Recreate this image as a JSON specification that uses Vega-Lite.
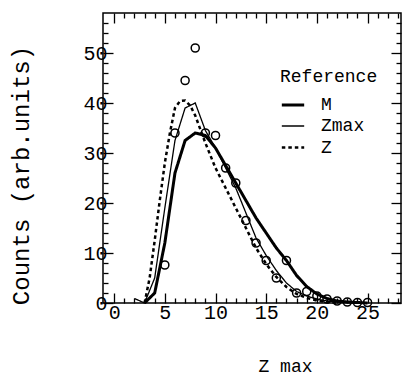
{
  "$schema": "https://vega.github.io/schema/vega-lite/v6.json",
  "width": 298,
  "height": 290,
  "autosize": "none",
  "padding": {"left": 103, "top": 13, "right": 2, "bottom": 74},
  "config": {
    "view": {"stroke": "black", "strokeWidth": 1.5},
    "font": "Liberation Mono",
    "axis": {
      "domain": false, "grid": false, "tickColor": "black", "tickWidth": 1.3,
      "labelColor": "black", "titleColor": "black",
      "labelFont": "Liberation Mono", "titleFont": "Liberation Mono", "titleFontWeight": "normal"
    }
  },
  "datasets": {
    "curves": [
      {"model": "M", "z": 3, "count": 0}, {"model": "M", "z": 4, "count": 2}, {"model": "M", "z": 5, "count": 12},
      {"model": "M", "z": 6, "count": 26}, {"model": "M", "z": 7, "count": 32.5}, {"model": "M", "z": 8, "count": 34},
      {"model": "M", "z": 9, "count": 33.5}, {"model": "M", "z": 10, "count": 31}, {"model": "M", "z": 11, "count": 27.5},
      {"model": "M", "z": 12, "count": 24}, {"model": "M", "z": 13, "count": 20.5}, {"model": "M", "z": 14, "count": 17},
      {"model": "M", "z": 15, "count": 14}, {"model": "M", "z": 16, "count": 11}, {"model": "M", "z": 17, "count": 8.5},
      {"model": "M", "z": 18, "count": 5.5}, {"model": "M", "z": 19, "count": 3.3}, {"model": "M", "z": 20, "count": 1.8},
      {"model": "M", "z": 21, "count": 0.9}, {"model": "M", "z": 22, "count": 0.4}, {"model": "M", "z": 23, "count": 0.2},
      {"model": "M", "z": 24, "count": 0.1}, {"model": "M", "z": 25, "count": 0},
      {"model": "Zmax", "z": 2, "count": 0.9}, {"model": "Zmax", "z": 3, "count": 0}, {"model": "Zmax", "z": 4, "count": 5},
      {"model": "Zmax", "z": 5, "count": 19}, {"model": "Zmax", "z": 6, "count": 32.5}, {"model": "Zmax", "z": 7, "count": 39},
      {"model": "Zmax", "z": 8, "count": 40}, {"model": "Zmax", "z": 9, "count": 34.5}, {"model": "Zmax", "z": 10, "count": 31},
      {"model": "Zmax", "z": 11, "count": 27}, {"model": "Zmax", "z": 12, "count": 23}, {"model": "Zmax", "z": 13, "count": 18},
      {"model": "Zmax", "z": 14, "count": 13}, {"model": "Zmax", "z": 15, "count": 9.5}, {"model": "Zmax", "z": 16, "count": 6.5},
      {"model": "Zmax", "z": 17, "count": 4}, {"model": "Zmax", "z": 18, "count": 2.3}, {"model": "Zmax", "z": 19, "count": 1.4},
      {"model": "Zmax", "z": 20, "count": 0.8}, {"model": "Zmax", "z": 21, "count": 0.4}, {"model": "Zmax", "z": 22, "count": 0.2},
      {"model": "Zmax", "z": 23, "count": 0.1}, {"model": "Zmax", "z": 24, "count": 0},
      {"model": "Z", "z": 3, "count": 0}, {"model": "Z", "z": 3.5, "count": 5}, {"model": "Z", "z": 4, "count": 12.5},
      {"model": "Z", "z": 4.5, "count": 20.5}, {"model": "Z", "z": 5, "count": 28}, {"model": "Z", "z": 5.5, "count": 34},
      {"model": "Z", "z": 6, "count": 39}, {"model": "Z", "z": 6.5, "count": 40.4}, {"model": "Z", "z": 7, "count": 40.5},
      {"model": "Z", "z": 7.5, "count": 39.5}, {"model": "Z", "z": 8, "count": 37.5}, {"model": "Z", "z": 9, "count": 32},
      {"model": "Z", "z": 10, "count": 27}, {"model": "Z", "z": 11, "count": 23}, {"model": "Z", "z": 12, "count": 19},
      {"model": "Z", "z": 13, "count": 15}, {"model": "Z", "z": 14, "count": 11}, {"model": "Z", "z": 15, "count": 7.8},
      {"model": "Z", "z": 16, "count": 5.2}, {"model": "Z", "z": 17, "count": 3.2}, {"model": "Z", "z": 18, "count": 1.8},
      {"model": "Z", "z": 19, "count": 1}, {"model": "Z", "z": 20, "count": 0.5}, {"model": "Z", "z": 21, "count": 0.2},
      {"model": "Z", "z": 22, "count": 0}
    ],
    "points": [
      {"z": 5, "count": 7.6}, {"z": 6, "count": 34}, {"z": 7, "count": 44.5}, {"z": 8, "count": 51},
      {"z": 9, "count": 34}, {"z": 10, "count": 33.5}, {"z": 11, "count": 27}, {"z": 12, "count": 24},
      {"z": 13, "count": 16.5}, {"z": 14, "count": 12}, {"z": 15, "count": 8.5}, {"z": 16, "count": 5},
      {"z": 17, "count": 8.5}, {"z": 18, "count": 2}, {"z": 19, "count": 2.3}, {"z": 20, "count": 1.4},
      {"z": 21, "count": 0.8}, {"z": 22, "count": 0.4}, {"z": 23, "count": 0.2}, {"z": 24, "count": 0.1},
      {"z": 25, "count": 0.1}
    ]
  },
  "layer": [
    {
      "data": {"name": "curves"},
      "mark": {"type": "line", "color": "black"},
      "encoding": {
        "x": {"field": "z", "type": "quantitative",
          "scale": {"domain": [-1.1, 28.3], "nice": false, "zero": false},
          "axis": {"orient": "bottom", "values": [0, 5, 10, 15, 20, 25], "tickSize": -10,
            "labelFontSize": 20, "labelPadding": 9, "labelBaseline": "top",
            "title": "Z max", "titleFontSize": 18, "titleX": 182, "titleY": 68, "titleAlign": "center", "titleBaseline": "alphabetic"}},
        "y": {"field": "count", "type": "quantitative",
          "scale": {"domain": [0, 58], "nice": false},
          "axis": {"orient": "left", "values": [0, 10, 20, 30, 40, 50], "tickSize": -10,
            "labelFontSize": 20, "labelPadding": 6,
            "title": "Counts (arb.units)", "titleFontSize": 24, "titleX": -75, "titleY": 162, "titleAngle": 270, "titleAlign": "center", "titleBaseline": "alphabetic"}},
        "strokeWidth": {"field": "model", "type": "nominal",
          "scale": {"type": "ordinal", "domain": ["M", "Zmax", "Z"], "range": [3, 1.3, 2.5]},
          "legend": {"orient": "none", "legendX": 177, "legendY": 55, "title": "Reference",
            "titleFontSize": 18, "titleFontWeight": "normal", "titleFont": "Liberation Mono", "titleColor": "black",
            "labelFontSize": 18, "labelFont": "Liberation Mono", "labelColor": "black",
            "symbolType": "stroke", "symbolSize": 500, "symbolStrokeColor": "black", "labelOffset": 15, "titlePadding": 6, "rowPadding": -3}},
        "strokeDash": {"field": "model", "type": "nominal",
          "scale": {"domain": ["M", "Zmax", "Z"], "range": [[1, 0], [1, 0], [3.5, 3]]},
          "legend": {"orient": "none", "legendX": 177, "legendY": 55, "title": "Reference",
            "titleFontSize": 18, "titleFontWeight": "normal", "titleFont": "Liberation Mono", "titleColor": "black",
            "labelFontSize": 18, "labelFont": "Liberation Mono", "labelColor": "black",
            "symbolType": "stroke", "symbolSize": 500, "symbolStrokeColor": "black", "labelOffset": 15, "titlePadding": 6, "rowPadding": -3}}
      }
    },
    {
      "data": {"name": "points"},
      "mark": {"type": "point", "shape": "circle", "filled": false, "color": "black", "opacity": 1, "size": 65, "strokeWidth": 1.5},
      "encoding": {
        "x": {"field": "z", "type": "quantitative", "scale": {"domain": [-1.1, 28.3], "nice": false, "zero": false},
          "axis": {"orient": "top", "values": [0, 5, 10, 15, 20, 25], "tickSize": -10, "labels": false, "title": null}},
        "y": {"field": "count", "type": "quantitative", "scale": {"domain": [0, 58], "nice": false},
          "axis": {"orient": "right", "values": [0, 10, 20, 30, 40, 50], "tickSize": -10, "labels": false, "title": null}}
      }
    },
    {
      "data": {"name": "points"},
      "mark": {"type": "point", "opacity": 0},
      "encoding": {
        "x": {"field": "z", "type": "quantitative", "scale": {"domain": [-1.1, 28.3], "nice": false, "zero": false},
          "axis": {"orient": "bottom", "values": [1, 2, 3, 4, 6, 7, 8, 9, 11, 12, 13, 14, 16, 17, 18, 19, 21, 22, 23, 24, 26, 27, 28], "tickSize": -5, "labels": false, "title": null}},
        "y": {"field": "count", "type": "quantitative", "scale": {"domain": [0, 58], "nice": false},
          "axis": {"orient": "left", "values": [2, 4, 6, 8, 12, 14, 16, 18, 22, 24, 26, 28, 32, 34, 36, 38, 42, 44, 46, 48, 52, 54, 56], "tickSize": -5, "labels": false, "title": null}}
      }
    },
    {
      "data": {"name": "points"},
      "mark": {"type": "point", "opacity": 0},
      "encoding": {
        "x": {"field": "z", "type": "quantitative", "scale": {"domain": [-1.1, 28.3], "nice": false, "zero": false},
          "axis": {"orient": "top", "values": [1, 2, 3, 4, 6, 7, 8, 9, 11, 12, 13, 14, 16, 17, 18, 19, 21, 22, 23, 24, 26, 27, 28], "tickSize": -5, "labels": false, "title": null}},
        "y": {"field": "count", "type": "quantitative", "scale": {"domain": [0, 58], "nice": false},
          "axis": {"orient": "right", "values": [2, 4, 6, 8, 12, 14, 16, 18, 22, 24, 26, 28, 32, 34, 36, 38, 42, 44, 46, 48, 52, 54, 56], "tickSize": -5, "labels": false, "title": null}}
      }
    }
  ],
  "resolve": {"axis": {"x": "independent", "y": "independent"}}
}
